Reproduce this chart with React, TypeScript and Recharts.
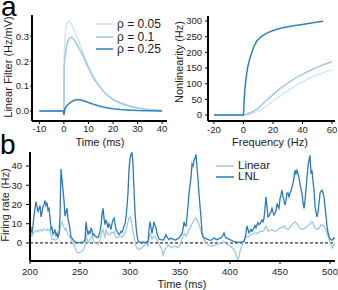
import { LineChart, Line, XAxis, YAxis, ReferenceLine, Legend } from "recharts"

const FONT = '"Liberation Sans", Arial, sans-serif'
const INK = "#222"

// panel a, left: linear filters
const filterTime = [-10, -0.2, 0, 0.1, 0.5, 1, 1.5, 2, 3, 4, 5, 6, 7, 8, 10, 12, 14, 16, 18, 20, 23, 26, 30, 35, 40]
const filterRho005 = [0, 0, -0.015, 0.22, 0.3, 0.345, 0.358, 0.36, 0.35, 0.33, 0.305, 0.28, 0.255, 0.23, 0.18, 0.138, 0.105, 0.08, 0.06, 0.045, 0.03, 0.02, 0.01, 0.004, 0.002]
const filterRho01 = [0, 0, -0.015, 0.18, 0.22, 0.255, 0.278, 0.29, 0.295, 0.288, 0.272, 0.255, 0.237, 0.217, 0.172, 0.133, 0.104, 0.08, 0.062, 0.047, 0.032, 0.022, 0.012, 0.005, 0.002]
const filterRho025 = [0, 0, -0.016, -0.01, 0.01, 0.018, 0.024, 0.029, 0.037, 0.042, 0.045, 0.045, 0.044, 0.041, 0.034, 0.027, 0.021, 0.016, 0.012, 0.009, 0.006, 0.004, 0.002, 0.001, 0]
const filterTicksX = [-10, 0, 10, 20, 30, 40]
const filterTicksY = [0, 0.1, 0.2, 0.3]
const rhoNames = ["ρ = 0.05", "ρ = 0.1", "ρ = 0.25"]

// panel a, right: nonlinearities
const nlFreqDark = [-20, 0, 0.5, 1, 2, 3, 4, 5, 7, 9, 12, 15, 18, 22, 26, 30, 35, 41, 48, 54]
const nlRho025 = [0, 0, 50, 85, 125, 155, 175, 190, 218, 236, 250, 259, 266, 273, 278, 282, 286, 290, 295, 299]
const nlFreq = [-20, 0, 2.5, 5, 7.5, 10, 15, 20, 25, 30, 35, 40, 45, 50, 55, 60]
const nlRho01 = [0, 0, 3, 8, 14, 21, 44, 65, 85, 102, 117, 130, 142, 153, 162, 170]
const nlRho005 = [0, 0, 1.5, 4, 7, 12, 27, 45, 62, 78, 93, 106, 118, 128, 137, 145]
const nlTicksX = [-20, 0, 20, 40, 60]
const nlTicksY = [0, 50, 100, 150, 200, 250, 300]

// panel b: firing rate, [time ms, rate Hz]
const lnlRate: [number, number][] = [
  [200, 6], [201, 7.5], [202, 5], [203, 9], [204, 14], [205, 18], [206, 21.5], [207, 19], [208, 16], [209, 18],
  [210, 19.5], [211, 13.5], [212, 16], [213, 19], [214, 20], [215, 22], [216, 19.5], [217, 21], [218, 17], [219, 18],
  [220, 13.5], [221, 7], [222, 8], [223, 4.5], [224, 5.5], [225, 7], [226, 3.5], [227, 5], [228, 2.8], [229, 5],
  [230, 13.5], [231, 38.5], [232, 33], [233, 27.5], [234, 22], [235, 14], [236, 16], [237, 18], [238, 12.5], [239, 10],
  [240, 7], [241, 3], [242, 2.5], [243, 1.7], [245, 0.5], [247, 0.3], [249, 0.2], [251, 0.4], [253, 0.3], [255, 1.5],
  [256, 11], [257, 7], [258, 4.3], [259, 6], [260, 5], [261, 7.5], [262, 6.5], [263, 4], [264, 4.5], [265, 3.5],
  [267, 3], [268, 2.8], [269, 4], [270, 6], [271, 9], [272, 15], [273, 18], [274, 13], [275, 9.5], [276, 12],
  [277, 10], [278, 7.8], [279, 10], [280, 9], [281, 7], [282, 10], [283, 12], [284, 13], [285, 10], [286, 7],
  [287, 6], [288, 5.2], [289, 4.3], [290, 5], [291, 6], [292, 5.5], [293, 7], [294, 8.8], [295, 10], [296, 13.5],
  [297, 19], [298, 26], [299, 38], [300, 44], [301, 46], [302, 47], [303, 41], [304, 27.5], [305, 16], [306, 8.8],
  [307, 4], [308, 1], [310, 0.3], [313, 0.4], [316, 0.3], [318, 0.8], [319, 7], [320, 11], [321, 8], [322, 5],
  [323, 8], [324, 11], [325, 9], [326, 7.8], [327, 5], [328, 3.5], [329, 2], [331, 1.7], [333, 1.5], [334, 2],
  [336, 4.3], [337, 3], [339, 1.7], [341, 2.5], [343, 2], [345, 1.5], [346, 1.7], [348, 2.2], [349, 2.6], [351, 4],
  [352, 5], [353, 7], [354, 11], [355, 9], [356, 8.8], [357, 13.5], [358, 19], [359, 25.8], [360, 30], [361, 34],
  [362, 41], [363, 40], [364, 43], [365, 44], [366, 46], [367, 39.5], [368, 33], [369, 25.8], [370, 19], [371, 13.5],
  [372, 5.2], [373, 3.5], [374, 2.6], [376, 2.2], [377, 2], [379, 1.6], [381, 1.4], [383, 2], [384, 2.6], [386, 2],
  [387, 1.7], [389, 2.2], [391, 2.6], [393, 4], [394, 5.2], [395, 3.5], [396, 2.6], [398, 2.2], [399, 2], [401, 1.5],
  [403, 1], [404, 0.8], [406, 0.5], [409, 0.3], [412, 0.5], [414, 0.9], [415, 2.5], [416, 5.2], [417, 8.8], [418, 7],
  [419, 5.2], [420, 6], [421, 7], [422, 6], [423, 7], [424, 7.8], [425, 9], [426, 8], [427, 9.5], [428, 10.5],
  [429, 9.5], [430, 10], [431, 11], [432, 12], [433, 11], [434, 12.8], [435, 18], [436, 24], [437, 19], [438, 13.6],
  [439, 14], [440, 15.3], [441, 16], [442, 18], [443, 16], [444, 14.5], [445, 15.3], [446, 17], [447, 20.5], [448, 19],
  [449, 18], [450, 23], [451, 25], [452, 27.5], [453, 24], [454, 22], [455, 19.7], [456, 22], [457, 25.8], [458, 26],
  [459, 24], [460, 25.8], [461, 27], [462, 29], [463, 31], [464, 34], [465, 37.8], [466, 36], [467, 37.8], [468, 36],
  [469, 34], [470, 30.6], [471, 28], [472, 25.8], [473, 21], [474, 18], [475, 22], [476, 28], [477, 34], [478, 40],
  [479, 43], [480, 45.5], [481, 36], [482, 37.8], [483, 32], [484, 27.5], [485, 19], [486, 16], [487, 13.6], [488, 16],
  [489, 20.5], [490, 25.8], [491, 27], [492, 27.5], [493, 26], [494, 24], [495, 19], [496, 14], [497, 8.8], [498, 5.5],
  [499, 3.5], [500, 2], [501, 1.7], [502, 1.4], [503, 1.8], [504, 2.6], [505, 2.2],
]
const linearRate: [number, number][] = [
  [200, 2.6], [201, 4.3], [202, 3.5], [203, 5], [205, 6], [207, 6.5], [208, 5.8], [210, 7], [212, 6.2], [213, 7],
  [215, 7], [217, 6.5], [218, 7.2], [220, 6], [221, 4], [222, 1.7], [224, 2], [225, 1.4], [227, 2], [228, 3.1],
  [230, 7], [231, 10], [232, 11], [233, 9], [235, 7], [236, 7.5], [238, 4.3], [240, 3], [242, 0.8], [244, -1],
  [245, -2.6], [247, -4.5], [248, -5.2], [250, -4.8], [252, -4.3], [254, -3], [255, -1.7], [256, 5], [257, 2], [258, 0],
  [260, 1.5], [262, 3.5], [263, 2], [265, 0], [267, -0.5], [268, -0.9], [270, 1.5], [272, 6], [273, 7], [275, 2.6],
  [276, 7], [278, 4.3], [280, 4.3], [281, 5.5], [283, 5.2], [284, 6], [286, 2.6], [288, 3], [290, 3.5], [292, 3],
  [294, 4.3], [296, 6.5], [297, 8.8], [298, 11], [299, 13], [300, 13.5], [301, 12], [302, 8.8], [303, 6], [304, 3.5],
  [305, 1], [306, -1.7], [308, -3.5], [310, -3.2], [312, -2.6], [314, -1.5], [315, 0], [317, -1], [318, -1.7], [319, 2],
  [320, 5.2], [322, 2], [324, 3.5], [326, 2.5], [328, 0.9], [330, -1.7], [332, -3.5], [333, -6.5], [334, -5], [335, -3.5],
  [337, -2], [338, -0.9], [340, -1.8], [341, -2.6], [343, -2], [345, -1.7], [347, -2.2], [348, -2.6], [350, -1], [351, 0],
  [352, 2], [354, 5], [356, 3.5], [357, 4.3], [358, 6], [360, 7.8], [362, 10], [363, 11], [365, 12.5], [366, 13],
  [367, 12], [368, 11], [370, 8], [371, 6], [373, 3], [374, 1.7], [376, 0.5], [378, -0.9], [380, -1.2], [382, -1.7],
  [384, -1.3], [386, -0.9], [388, -0.6], [390, -0.3], [392, 0.2], [394, 0.9], [395, 0], [397, -0.9], [399, -1.2], [400, -1.7],
  [402, -2.5], [404, -3.5], [405, -4.5], [406, -6], [407, -7.5], [408, -8.6], [409, -7], [410, -4.3], [412, -1.5], [413, 0],
  [415, 2], [416, 3.5], [418, 3], [420, 3.8], [422, 4.5], [425, 5.2], [427, 4.8], [430, 6], [432, 6], [434, 6.5],
  [436, 8.8], [438, 6], [440, 6.5], [442, 7], [444, 6.2], [446, 6], [448, 6.8], [450, 7.8], [452, 8], [454, 8.8],
  [456, 7.5], [458, 7], [460, 8], [462, 9.5], [464, 10.5], [465, 11], [467, 10], [468, 8.8], [470, 7.5], [472, 7],
  [474, 7.5], [475, 7.8], [477, 8.5], [479, 9.5], [481, 10.5], [482, 11], [484, 9], [485, 7.8], [487, 7.2], [488, 7],
  [490, 8.5], [491, 9.5], [493, 9], [494, 8.8], [496, 7], [497, 5], [499, 2], [500, 0], [501, -1], [502, -2.6],
  [503, -2], [504, -0.9], [505, 0],
]
const rateTicksX = [200, 250, 300, 350, 400, 450, 500]
const rateTicksY = [0, 10, 20, 30, 40]
const rateNames = ["Linear", "LNL"]

const C_LIGHT = "#d3e5f4"
const C_MID = "#9ecae1"
const C_DARK = "#3182bd"

const filterRows = filterTime.map((t, i) => ({
  t,
  r005: filterRho005[i],
  r01: filterRho01[i],
  r025: filterRho025[i],
}))
const nlDark = nlFreqDark.map((f, i) => ({ f, r: nlRho025[i] }))
const nlMid = nlFreq.map((f, i) => ({ f, r: nlRho01[i] }))
const nlLight = nlFreq.map((f, i) => ({ f, r: nlRho005[i] }))
const lnlRows = lnlRate.map(([t, r]) => ({ t, r }))
const linearRows = linearRate.map(([t, r]) => ({ t, r }))

const tick = { fontSize: 9.5, fill: INK, fontFamily: FONT }
const axisLine = { stroke: "#000", strokeWidth: 2 }
const tickLine = { stroke: "#000" }

const yLabel = (text: string, cx: number, cy: number) => () => (
  <text
    x={cx}
    y={cy}
    transform={`rotate(-90 ${cx} ${cy})`}
    textAnchor="middle"
    dominantBaseline="central"
    fontSize={11}
    fill={INK}
    fontFamily={FONT}
  >
    {text}
  </text>
)

const xLabel = (text: string, cx: number, cy: number) => () => (
  <text x={cx} y={cy} textAnchor="middle" dominantBaseline="central" fontSize={11} fill={INK} fontFamily={FONT}>
    {text}
  </text>
)

function LegendRows({ payload, order, rowHeight, lineLen, fontSize }: any) {
  const items = [...(payload || [])].sort((a: any, b: any) => order.indexOf(a.value) - order.indexOf(b.value))
  return (
    <div style={{ fontFamily: FONT, fontSize, color: INK }}>
      {items.map((p: any) => (
        <div key={p.value} style={{ display: "flex", alignItems: "center", height: rowHeight }}>
          <svg width={lineLen} height={4} style={{ marginRight: 4 }}>
            <line x1={0} y1={2} x2={lineLen} y2={2} stroke={p.color} strokeWidth={1.5} />
          </svg>
          <span style={{ lineHeight: 1 }}>{p.value}</span>
        </div>
      ))}
    </div>
  )
}

const panelLetter = (left: number, top: number) => ({
  position: "absolute" as const,
  left,
  top,
  fontSize: 28,
  lineHeight: 1,
  fontFamily: FONT,
  color: "#000",
})

export default function App() {
  return (
    <div style={{ position: "absolute", left: 0, top: 0, width: 338, height: 290, background: "#fff", overflow: "hidden" }}>
      <div style={panelLetter(1, -7)}>a</div>
      <div style={panelLetter(0, 131)}>b</div>

      <div style={{ position: "absolute", left: 0, top: 0 }}>
        <LineChart width={175} height={150} data={filterRows} margin={{ top: 15, right: 8, bottom: 9, left: 0 }}>
          <XAxis
            type="number"
            dataKey="t"
            domain={[-13, 42]}
            ticks={filterTicksX}
            allowDataOverflow
            height={20}
            tickSize={3}
            tickMargin={1}
            axisLine={axisLine}
            tickLine={tickLine}
            tick={tick}
            label={xLabel("Time (ms)", 100, 142)}
          />
          <YAxis
            type="number"
            domain={[-0.04, 0.385]}
            ticks={filterTicksY}
            allowDataOverflow
            width={32}
            tickSize={2}
            tickMargin={1}
            tickFormatter={(v: number) => v.toFixed(1)}
            axisLine={axisLine}
            tickLine={tickLine}
            tick={tick}
            label={yLabel("Linear Filter (Hz/mV)", 8, 67)}
          />
          <Legend
            layout="vertical"
            align="center"
            verticalAlign="middle"
            wrapperStyle={{ left: 96, top: 18, width: 80 }}
            content={(p: any) => <LegendRows payload={p.payload} order={rhoNames} rowHeight={12.5} lineLen={17} fontSize={12} />}
          />
          <Line type="linear" dataKey="r005" name={rhoNames[0]} stroke={C_LIGHT} strokeWidth={1.5} dot={false} isAnimationActive={false} />
          <Line type="linear" dataKey="r01" name={rhoNames[1]} stroke={C_MID} strokeWidth={1.5} dot={false} isAnimationActive={false} />
          <Line type="linear" dataKey="r025" name={rhoNames[2]} stroke={C_DARK} strokeWidth={1.5} dot={false} isAnimationActive={false} />
        </LineChart>
      </div>

      <div style={{ position: "absolute", left: 168, top: 0 }}>
        <LineChart width={170} height={150} margin={{ top: 16, right: 3, bottom: 9, left: 0 }}>
          <XAxis
            type="number"
            dataKey="f"
            domain={[-24, 62]}
            ticks={nlTicksX}
            allowDataOverflow
            height={20}
            tickSize={3}
            tickMargin={2}
            axisLine={axisLine}
            tickLine={tickLine}
            tick={tick}
            label={xLabel("Frequency (Hz)", 102, 142)}
          />
          <YAxis
            type="number"
            domain={[-19, 316]}
            ticks={nlTicksY}
            allowDataOverflow
            width={40}
            tickSize={3}
            tickMargin={3}
            axisLine={axisLine}
            tickLine={tickLine}
            tick={tick}
            label={yLabel("Nonlinearity (Hz)", 11, 62)}
          />
          <Line data={nlLight} type="linear" dataKey="r" name={rhoNames[0]} stroke={C_LIGHT} strokeWidth={1.5} dot={false} isAnimationActive={false} />
          <Line data={nlMid} type="linear" dataKey="r" name={rhoNames[1]} stroke={C_MID} strokeWidth={1.5} dot={false} isAnimationActive={false} />
          <Line data={nlDark} type="linear" dataKey="r" name={rhoNames[2]} stroke={C_DARK} strokeWidth={1.5} dot={false} isAnimationActive={false} />
        </LineChart>
      </div>

      <div style={{ position: "absolute", left: 0, top: 140 }}>
        <LineChart width={338} height={150} margin={{ top: 12, right: 3, bottom: 9, left: 0 }}>
          <XAxis
            type="number"
            dataKey="t"
            domain={[200, 505]}
            ticks={rateTicksX}
            allowDataOverflow
            height={20}
            tickSize={3}
            tickMargin={4}
            axisLine={axisLine}
            tickLine={tickLine}
            tick={tick}
            label={xLabel("Time (ms)", 182, 144)}
          />
          <YAxis
            type="number"
            domain={[-9.4, 47.3]}
            ticks={rateTicksY}
            allowDataOverflow
            width={30}
            tickSize={4}
            tickMargin={4}
            axisLine={axisLine}
            tickLine={tickLine}
            tick={tick}
            label={yLabel("Firing rate (Hz)", 5, 65)}
          />
          <ReferenceLine y={0} stroke="#000" strokeWidth={1} strokeDasharray="3 2" />
          <Legend
            layout="vertical"
            align="center"
            verticalAlign="middle"
            wrapperStyle={{ left: 216, top: 20, width: 80 }}
            content={(p: any) => <LegendRows payload={p.payload} order={rateNames} rowHeight={11} lineLen={18} fontSize={11.5} />}
          />
          <Line data={linearRows} type="linear" dataKey="r" name={rateNames[0]} stroke={C_MID} strokeWidth={1.3} dot={false} isAnimationActive={false} />
          <Line data={lnlRows} type="linear" dataKey="r" name={rateNames[1]} stroke="#2b7bba" strokeWidth={1.3} dot={false} isAnimationActive={false} />
        </LineChart>
      </div>
    </div>
  )
}
